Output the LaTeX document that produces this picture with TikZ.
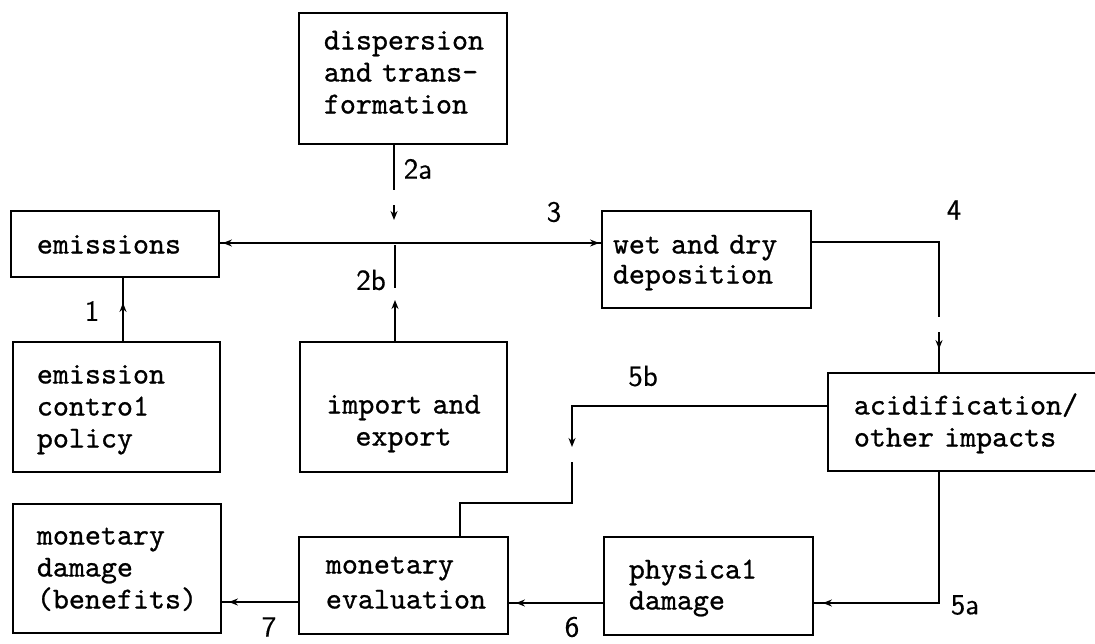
\documentclass[tikz,border=0pt]{standalone}
\usepackage{fontspec}
\usetikzlibrary{arrows.meta,decorations.markings}
% typewriter face for the box texts, slightly heavier than the stock one
\newfontfamily\twfont{lmmono10-regular.otf}[FakeBold=0.8]
\newfontfamily\lblfont{lmsans10-regular.otf}[FakeBold=0.5]
\begin{document}
\begin{tikzpicture}[x=1pt,y=-1pt,line width=1.8pt,
  tip/.tip={Stealth[length=9pt,width=7pt]},
  box/.style={draw,line width=1.8pt,inner sep=0pt},
  boxtext/.style={anchor=base west,inner sep=0pt,text width=280pt,align=left,
    font=\fontsize{30.5}{#1}\selectfont\twfont},
  boxtext/.default=32,
  lbl/.style={inner sep=0pt,font=\fontsize{29}{32}\selectfont\lblfont},
  tipend/.style={postaction={decorate,decoration={markings,
      mark=at position -#1pt with {\arrow{tip}}}}},
  tipstart/.style={postaction={decorate,decoration={markings,
      mark=at position #1pt with {\arrowreversed{tip}}}}}]
\useasboundingbox (0,0) rectangle (1095,643);

% boxes
\node[box,minimum width=208pt,minimum height=131pt] (disp)  at (403,78.5)  {};
\node[box,minimum width=208pt,minimum height=66pt]  (emis)  at (115,244)   {};
\node[box,minimum width=209pt,minimum height=97pt]  (wet)   at (706.5,259.5) {};
\node[box,minimum width=207pt,minimum height=130pt] (ctrl)  at (116.5,407) {};
\node[box,minimum width=207pt,minimum height=130pt] (imp)   at (403.5,407) {};
\node[box,minimum width=272pt,minimum height=98pt]  (acid)  at (964,422)   {};
\node[box,minimum width=208pt,minimum height=129pt] (mdam)  at (117,568.5) {};
\node[box,minimum width=209pt,minimum height=97pt]  (meval) at (403.5,585.5) {};
\node[box,minimum width=209pt,minimum height=98pt]  (phys)  at (708.5,586) {};

% box texts
\node[boxtext] (disp-t)  at (323,49.5)  {dispersion\\and trans-\\formation};
\node[boxtext] (emis-t)  at (36,253.5)  {emissions};
\node[boxtext=30] (wet-t) at (612,253.5) {wet and dry\\deposition};
\node[boxtext] (ctrl-t)  at (36,383.5)  {emission\\contro1\\policy};
\node[boxtext,anchor=base,text width=207pt,align=center] (imp-t) at (403.5,413.5) {import and\\export};
\node[boxtext] (acid-t)  at (853,414.5) {acidification/\\other impacts};
\node[boxtext] (mdam-t)  at (36,544.5)  {monetary\\damage\\(benefits)};
\node[boxtext=35] (meval-t) at (325,573.5) {monetary\\evaluation};
\node[boxtext=31] (phys-t) at (628,578.5) {physica1\\damage};

% helper coordinates
\coordinate (x1)  at (123,0);
\coordinate (x2a) at (394,0);
\coordinate (x2b) at (395,0);
\coordinate (x4)  at (939,0);
\coordinate (x5c) at (460,0);
\coordinate (y3)  at (0,243);
\coordinate (y4)  at (0,242);
\coordinate (y5b) at (0,406);
\coordinate (y5a) at (0,603);
\coordinate (y6)  at (0,603);
\coordinate (y7)  at (0,602);
\coordinate (b2a1) at (394,190);
\coordinate (b2a2) at (394,205);
\coordinate (t2a)  at (394,220);
\coordinate (b2b1) at (395,245);
\coordinate (b2b2) at (395,288);
\coordinate (t2b)  at (395,300);
\coordinate (b41)  at (939,317);
\coordinate (b42)  at (939,332);
\coordinate (t5b)  at (572,447);
\coordinate (b5b)  at (572,462);
\coordinate (k5b)  at (460,503);

% 1: policy -> emissions
\draw[tipend=25] (ctrl.north -| x1) -- (emis.south -| x1);
% 2a: dispersion and transformation
\draw (disp.south -| x2a) -- (b2a1);
\draw[-tip] (b2a2) -- (t2a);
% 2b: import and export
\draw (b2b1) -- (b2b2);
\draw[-tip] (imp.north -| x2b) -- (t2b);
% 3: emissions <-> deposition
\draw[tipstart=3,tipend=2] (emis.east |- y3) -- (wet.west |- y3);
% 4: deposition -> acidification
\draw (wet.east |- y4) -| (b41);
\draw[tipend=23] (b42) -- (acid.north -| x4);
% 5b: acidification -> monetary evaluation
\draw[-tip] (acid.west |- y5b) -| (t5b);
\draw (b5b) |- (k5b) -- (meval.north -| x5c);
% 5a: acidification -> physical damage
\draw[tipend=9] (acid.south -| x4) |- (phys.east |- y5a);
% 6 and 7
\draw[tipend=7] (phys.west |- y6) -- (meval.east |- y6);
\draw[tipend=7] (meval.west |- y7) -- (mdam.east |- y7);

% connector labels
\node[lbl] (l1)  at (92,311)  {1};
\node[lbl] (l2a) at (418,169) {2a};
\node[lbl] (l2b) at (371,280) {2b};
\node[lbl] (l3)  at (554,212) {3};
\node[lbl] (l4)  at (954,210) {4};
\node[lbl] (l5b) at (643,376) {5b};
\node[lbl] (l5a) at (965,605) {5a};
\node[lbl] (l6)  at (572,627) {6};
\node[lbl] (l7)  at (269,627) {7};
\end{tikzpicture}
\end{document}
